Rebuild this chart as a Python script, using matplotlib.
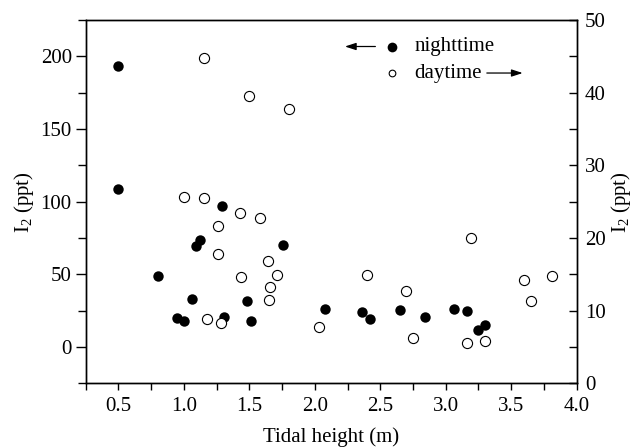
import numpy as np
import matplotlib
matplotlib.use("Agg")
import matplotlib.pyplot as plt
from matplotlib.ticker import MultipleLocator

plt.rcParams.update({
    "font.family": ["Liberation Serif", "DejaVu Serif"],
    "font.size": 15,
    "mathtext.fontset": "custom",
    "mathtext.rm": "Liberation Serif",
    "mathtext.it": "Liberation Serif:italic",
    "axes.linewidth": 1.0,
})

# nighttime, left axis
night_x = [0.50, 0.50, 0.80, 0.95, 1.00, 1.06, 1.09, 1.12, 1.29, 1.31, 1.48, 1.51,
           1.76, 2.08, 2.36, 2.42, 2.65, 2.84, 3.06, 3.16, 3.25, 3.30]
night_y = [193, 108.5, 49, 19.7, 18.2, 32.8, 69.8, 73.9, 96.8, 20.9, 31.7, 17.9,
           70.2, 26.1, 24.1, 19, 25.5, 20.4, 25.9, 24.6, 11.5, 15.4]

# daytime, right axis
day_x = [1.15, 1.50, 1.80, 1.00, 1.15, 1.43, 1.58, 1.26, 1.26, 1.64, 1.44, 1.71, 1.66,
         1.65, 1.18, 1.28, 2.03, 2.40, 2.70, 2.75, 3.19, 3.16, 3.30, 3.60, 3.65, 3.81]
day_y = [44.7, 39.6, 37.8, 25.7, 25.5, 23.5, 22.8, 21.65, 17.8, 16.9, 14.6, 14.9, 13.2,
         11.5, 8.8, 8.3, 7.8, 14.9, 12.7, 6.3, 20.0, 5.5, 5.8, 14.2, 11.3, 14.8]

fig = plt.figure(figsize=(6.38, 4.48), dpi=100)
ax = fig.add_axes([0.1343, 0.1444, 0.7696, 0.811])
ax2 = ax.twinx()

ax.plot(night_x, night_y, "o", color="black", ms=7.5, mew=0, zorder=3)
ax2.plot(day_x, day_y, "o", mfc="white", mec="black", ms=7.3, mew=0.8, zorder=3)

ax.set_xlim(0.25, 4.0)
ax.set_ylim(-25, 225)
ax2.set_ylim(0, 50)

ax.xaxis.set_major_locator(MultipleLocator(0.5))
ax.xaxis.set_minor_locator(MultipleLocator(0.25))
ax.yaxis.set_major_locator(MultipleLocator(50))
ax.yaxis.set_minor_locator(MultipleLocator(25))
ax2.yaxis.set_major_locator(MultipleLocator(10))
ax2.yaxis.set_minor_locator(MultipleLocator(5))
ax.xaxis.set_major_formatter(plt.FuncFormatter(lambda v, _: f"{v:.1f}"))

ax.tick_params(axis="x", which="both", direction="out", length=5, width=1, top=False, pad=5)
ax.tick_params(axis="y", which="major", direction="out", length=7, width=1, right=False, pad=3)
ax.tick_params(axis="y", which="minor", direction="out", length=6, width=1, right=False)
ax2.tick_params(axis="y", which="both", direction="in", length=6, width=1, pad=6)

ax.set_xlabel("Tidal height (m)", labelpad=8)
ax.set_ylabel(r"I$_{\mathrm{2}}$ (ppt)", labelpad=3)
ax2.set_ylabel(r"I$_{\mathrm{2}}$ (ppt)", labelpad=2)

# hand-drawn legend
tr = ax.transAxes
ax.plot([0.623], [0.927], "o", color="black", ms=7, mew=0, transform=tr, clip_on=False)
ax.plot([0.623], [0.854], "o", mfc="white", mec="black", ms=4.8, mew=0.8,
        transform=tr, clip_on=False)
ax.text(0.669, 0.926, "nighttime", transform=tr, va="center", ha="left")
ax.text(0.669, 0.854, "daytime", transform=tr, va="center", ha="left")
arrow = dict(arrowstyle="-|>,head_length=0.55,head_width=0.18", color="black",
             lw=0.9, mutation_scale=12, shrinkA=0, shrinkB=0)
ax.annotate("", xy=(0.528, 0.927), xytext=(0.590, 0.927), xycoords=tr, textcoords=tr,
            arrowprops=arrow)
ax.annotate("", xy=(0.890, 0.854), xytext=(0.817, 0.854), xycoords=tr, textcoords=tr,
            arrowprops=arrow)

fig.savefig("out.png", dpi=100)
